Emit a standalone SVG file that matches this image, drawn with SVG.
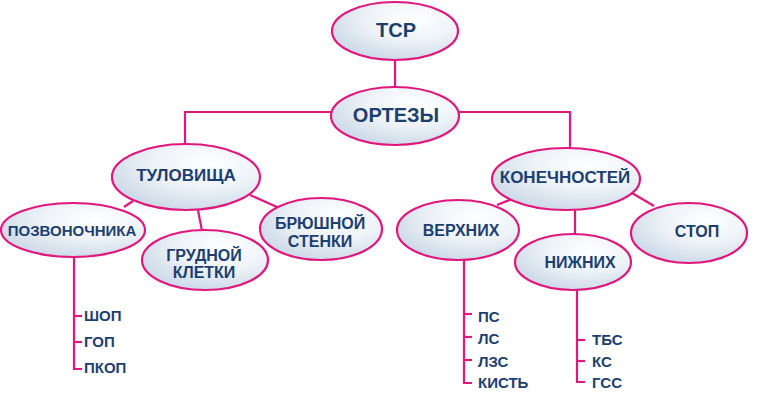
<svg xmlns="http://www.w3.org/2000/svg" width="767" height="408" viewBox="0 0 767 408">
<defs>
<radialGradient id="g" cx="0.65" cy="0.3" r="0.8">
<stop offset="0" stop-color="#ffffff"/>
<stop offset="0.45" stop-color="#eef3f8"/>
<stop offset="1" stop-color="#c6d5e5"/>
</radialGradient>
</defs>
<style>
ellipse{fill:url(#g);stroke:#e0177c;stroke-width:2.2}
.c line,.c polyline{stroke:#e0177c;stroke-width:2.2;fill:none}
text{font-family:"Liberation Sans",Arial,sans-serif;font-weight:bold;fill:#1d3f70;text-anchor:middle}
.l{text-anchor:start;font-size:15px}
</style>
<rect width="767" height="408" fill="#ffffff"/>
<g class="c">
<line x1="395" y1="60" x2="395" y2="87"/>
<polyline points="331,112 185,112 185,144"/>
<polyline points="459,112 570,112 570,148"/>
<line x1="133" y1="201" x2="124" y2="207"/>
<line x1="198" y1="210" x2="202" y2="231"/>
<line x1="250" y1="195" x2="277" y2="207"/>
<polyline points="74,257 74,369 82,369"/>
<line x1="74" y1="316" x2="82" y2="316"/>
<line x1="74" y1="342" x2="82" y2="342"/>
<line x1="512" y1="199" x2="497" y2="205"/>
<line x1="575" y1="210" x2="575" y2="235"/>
<line x1="632" y1="193" x2="654" y2="206"/>
<polyline points="464,260 464,383 472,383"/>
<line x1="464" y1="314" x2="472" y2="314"/>
<line x1="464" y1="337" x2="472" y2="337"/>
<line x1="464" y1="360" x2="472" y2="360"/>
<polyline points="577,290 577,382 585,382"/>
<line x1="577" y1="340" x2="585" y2="340"/>
<line x1="577" y1="361" x2="585" y2="361"/>
</g>
<g id="tsr"><ellipse cx="395" cy="31" rx="63" ry="29"/><text x="396" y="37" font-size="20">ТСР</text></g>
<g id="ortezy"><ellipse cx="395" cy="116" rx="64" ry="29"/><text x="396" y="122" font-size="20">ОРТЕЗЫ</text></g>
<g id="tulovishcha"><ellipse cx="186" cy="177" rx="74" ry="33"/><text x="186" y="181" font-size="17">ТУЛОВИЩА</text></g>
<g id="pozvonochnika"><ellipse cx="73" cy="230" rx="72" ry="27"/><text x="72" y="236" font-size="15">ПОЗВОНОЧНИКА</text></g>
<g id="grudnoy"><ellipse cx="205" cy="260" rx="63" ry="30"/><text x="204" y="261" font-size="16">ГРУДНОЙ</text><text x="204" y="278" font-size="16">КЛЕТКИ</text></g>
<g id="bryushnoy"><ellipse cx="321" cy="229" rx="61" ry="31"/><text x="320" y="229" font-size="16">БРЮШНОЙ</text><text x="320" y="247" font-size="16">СТЕНКИ</text></g>
<g id="konechnostey"><ellipse cx="566" cy="179" rx="74" ry="31"/><text x="565" y="183" font-size="17">КОНЕЧНОСТЕЙ</text></g>
<g id="verkhnikh"><ellipse cx="458" cy="230" rx="61" ry="30"/><text x="461" y="236" font-size="16">ВЕРХНИХ</text></g>
<g id="nizhnikh"><ellipse cx="573" cy="262" rx="58" ry="28"/><text x="580" y="268" font-size="16">НИЖНИХ</text></g>
<g id="stop"><ellipse cx="689" cy="233" rx="58" ry="30"/><text x="697" y="237" font-size="16">СТОП</text></g>
<g id="list1"><text class="l" x="84" y="321">ШОП</text><text class="l" x="84" y="347">ГОП</text><text class="l" x="84" y="373">ПКОП</text></g>
<g id="list2"><text class="l" x="478" y="322">ПС</text><text class="l" x="478" y="344">ЛС</text><text class="l" x="478" y="367">ЛЗС</text><text class="l" x="478" y="388">КИСТЬ</text></g>
<g id="list3"><text class="l" x="592" y="345">ТБС</text><text class="l" x="592" y="367">КС</text><text class="l" x="592" y="388">ГСС</text></g>
</svg>
